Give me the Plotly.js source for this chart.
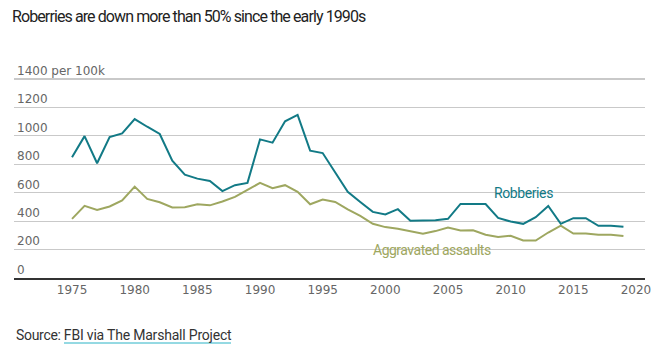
<!DOCTYPE html>
<html>
<head>
<meta charset="utf-8">
<script src="https://cdn.plot.ly/plotly-3.0.1.min.js"></script>
<style>html,body{margin:0;padding:0;background:#fff;}#chart{width:667px;height:352px;}</style>
</head>
<body>
<div id="chart"></div>
<script>
const years = [1975,1976,1977,1978,1979,1980,1981,1982,1983,1984,1985,1986,1987,1988,1989,1990,1991,1992,1993,1994,1995,1996,1997,1998,1999,2000,2001,2002,2003,2004,2005,2006,2007,2008,2009,2010,2011,2012,2013,2014,2015,2016,2017,2018,2019];
const robberies = [849,998,807,992,1017,1118,1064,1013,825,727,699,683,611,653,669,975,952,1102,1148,896,879,741,607,535,465,447,484,402,402,407,416,521,521,520,423,397,381,428,507,381,421,421,367,367,360];
const assaults = [416,507,479,503,545,643,556,533,496,498,519,511,538,571,620,669,631,653,606,519,552,535,482,437,381,358,346,327,311,330,355,334,336,304,288,297,264,264,320,369,313,313,304,304,295];
const yTickVals = [0,200,400,600,800,1000,1200,1400];
const yTickText = ['0','200','400','600','800','1000','1200','1400 per 100k'];
const xTickVals = [1975,1980,1985,1990,1995,2000,2005,2010,2015,2020];

const teal = '#127a86';
const olive = '#9ea760';
const gridColor = '#c9c9c9';
const sans = 'Roboto, sans-serif';
const tight = (s, ls) => '<span style="letter-spacing:' + ls + 'px">' + s + '</span>';

const W = 667, H = 352, ML = 14, MR = 22, MT = 73, MB = 74;
const PW = W - ML - MR, PH = H - MT - MB;
const px = v => (v - ML) / PW;          // container px -> paper x
const py = v => (H - MB - v) / PH;      // container px -> paper y

const traces = [
  {x: years, y: assaults, type: 'scatter', mode: 'lines', name: 'Aggravated assaults',
   line: {color: olive, width: 2}, hoverinfo: 'skip'},
  {x: years, y: robberies, type: 'scatter', mode: 'lines', name: 'Robberies',
   line: {color: teal, width: 2}, hoverinfo: 'skip'}
];

const layout = {
  width: W, height: H,
  margin: {l: ML, r: MR, t: MT, b: MB},
  paper_bgcolor: '#fff', plot_bgcolor: '#fff',
  showlegend: false,
  title: {text: tight('Roberries are down more than 50% since the early 1990s', -0.9),
          x: 12/W, xanchor: 'left', xref: 'container', y: 1 - 16/H, yanchor: 'middle', yref: 'container',
          font: {family: sans, size: 16, color: '#222'}},
  xaxis: {range: [1970.37, 2020.72], tickvals: xTickVals, showgrid: false, zeroline: false,
          showline: true, linecolor: '#333', linewidth: 1.5, ticks: '',
          tickfont: {family: 'DejaVu Sans', size: 12, color: '#666'}, fixedrange: true},
  yaxis: {range: [0, 1442], tickvals: yTickVals, ticktext: yTickText, showgrid: true,
          gridcolor: gridColor, gridwidth: 1.2, zeroline: false, showline: false, ticks: '',
          ticklabelposition: 'inside top', ticklabeloverflow: 'allow',
          tickfont: {family: 'DejaVu Sans', size: 12, color: '#666'}, fixedrange: true},
  annotations: [
    {x: 2011.0, y: 601, xref: 'x', yref: 'y', text: tight('Robberies', -0.4), showarrow: false,
     font: {family: sans, size: 14, color: teal}, xanchor: 'center', yanchor: 'middle'},
    {x: 2003.7, y: 199, xref: 'x', yref: 'y', text: tight('Aggravated assaults', -0.5), showarrow: false,
     font: {family: sans, size: 14, color: olive}, xanchor: 'center', yanchor: 'middle'},
    {x: 0, xref: 'paper', y: py(335), yref: 'paper',
     text: tight('Source: ', -0.3) + tight('FBI via The Marshall Project', -0.2),
     showarrow: false,
     xanchor: 'left', yanchor: 'middle', font: {family: sans, size: 14, color: '#333'}}
  ],
  shapes: [
    {type: 'line', xref: 'paper', yref: 'paper', x0: px(64), x1: px(231), y0: py(343), y1: py(343),
     line: {color: '#2ab3c6', width: 1}}
  ]
};

Plotly.newPlot('chart', traces, layout, {displayModeBar: false, staticPlot: true});
</script>
</body>
</html>
